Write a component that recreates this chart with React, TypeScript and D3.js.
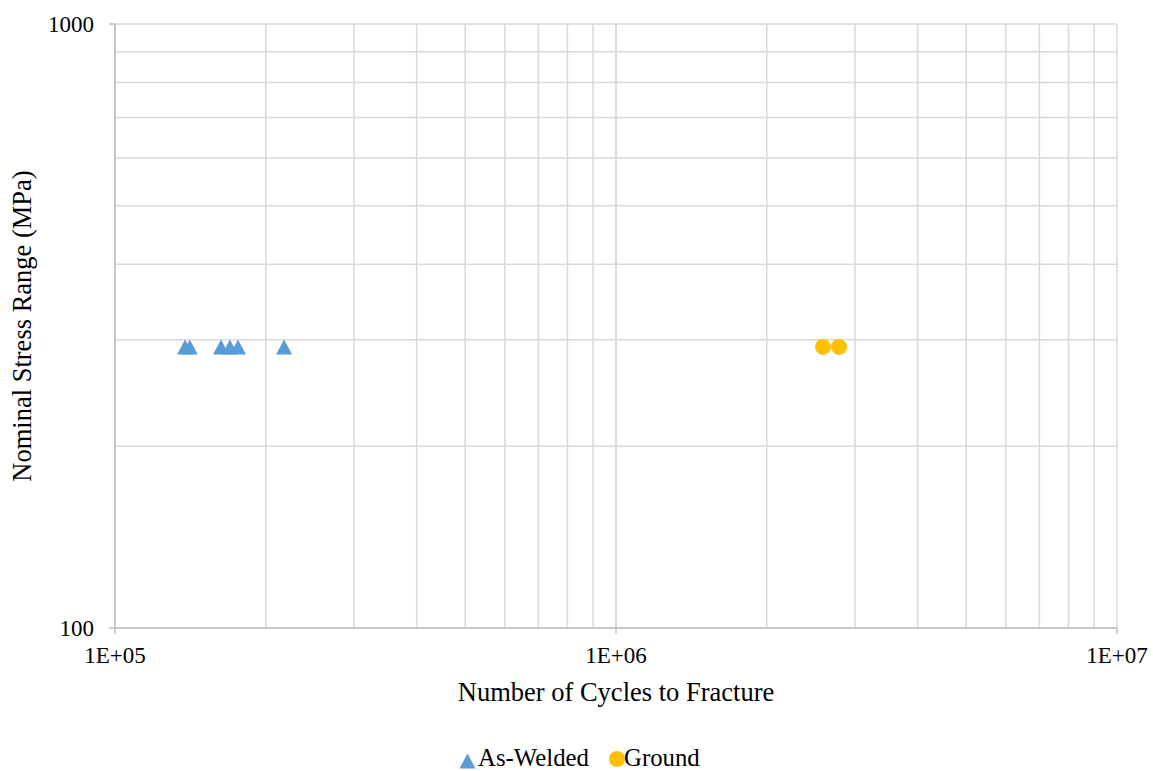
import React from "react";
import * as d3 from "d3";

const asWeldedCycles = [138000, 141000, 162800, 169600, 176000, 217500];
const asWeldedStress = [292, 292, 292, 292, 292, 292];
const groundCycles = [2589000, 2787000];
const groundStress = [292, 292];
const xTicks = [1e5, 1e6, 1e7];
const yTicks = [100, 1000];

const W = 1153;
const H = 771;
const margin = { left: 115, right: 36, top: 24, bottom: 143 };
const font = "Liberation Serif, Times New Roman, Tinos, DejaVu Serif, serif";

// triangle centred on its bounding box
const triPath = (w: number, h: number) => {
  const p = d3.path();
  p.moveTo(0, -h / 2);
  p.lineTo(w / 2, h / 2);
  p.lineTo(-w / 2, h / 2);
  p.closePath();
  return p.toString();
};

export default function App() {
  const x = d3.scaleLog().domain([1e5, 1e7]).range([margin.left, W - margin.right]);
  const y = d3.scaleLog().domain([100, 1000]).range([H - margin.bottom, margin.top]);

  const xGrid: number[] = [];
  for (let d = 1e5; d < 1e7; d *= 10) for (let k = 1; k <= 10; k++) xGrid.push(d * k);
  const yGrid: number[] = [];
  for (let k = 1; k <= 10; k++) yGrid.push(100 * k);

  const tri = triPath(16, 15);
  const circ = d3.symbol().type(d3.symbolCircle).size(200)() as string;

  const [x0, x1] = x.range();
  const [y0, y1] = y.range();
  const tick = { fontFamily: font, fontSize: 23, fill: "#000" };
  const title = { fontFamily: font, fontSize: 26.5, fill: "#000" };
  const leg = { fontFamily: font, fontSize: 24.8, fill: "#000" };

  return (
    <svg width={W} height={H} style={{ position: "absolute", left: 0, top: 0, background: "#fff" }}>
      <g>
        {xGrid.map((v, i) => (
          <line key={"xg" + i} x1={x(v)} x2={x(v)} y1={y1} y2={y0} stroke="#d9d9d9" strokeWidth={1.5} />
        ))}
        {yGrid.map((v, i) => (
          <line key={"yg" + i} x1={x0} x2={x1} y1={y(v)} y2={y(v)} stroke="#d9d9d9" strokeWidth={1.5} />
        ))}
        <line x1={x0} x2={x0} y1={y1} y2={y0} stroke="#bfbfbf" strokeWidth={1.5} />
        <line x1={x0} x2={x1} y1={y0} y2={y0} stroke="#bfbfbf" strokeWidth={1.5} />
        {xTicks.map((v) => (
          <g key={"xt" + v}>
            <line x1={x(v)} x2={x(v)} y1={y0} y2={y0 + 6} stroke="#bfbfbf" strokeWidth={1.5} />
            <text x={x(v)} y={y0 + 35} textAnchor="middle" style={tick}>
              {"1E+" + String(Math.round(Math.log10(v))).padStart(2, "0")}
            </text>
          </g>
        ))}
        {yTicks.map((v) => (
          <g key={"yt" + v}>
            <line x1={x0 - 6} x2={x0} y1={y(v)} y2={y(v)} stroke="#bfbfbf" strokeWidth={1.5} />
            <text x={x0 - 21} y={y(v) + 7.5} textAnchor="end" style={tick}>
              {v}
            </text>
          </g>
        ))}
        {asWeldedCycles.map((c, i) => (
          <path key={"aw" + i} d={tri} transform={`translate(${x(c)},${y(asWeldedStress[i])})`} fill="#5b9bd5" />
        ))}
        {groundCycles.map((c, i) => (
          <path key={"gr" + i} d={circ} transform={`translate(${x(c)},${y(groundStress[i])})`} fill="#ffc000" />
        ))}
        <text x={(x0 + x1) / 2} y={701} textAnchor="middle" style={title}>
          Number of Cycles to Fracture
        </text>
        <text transform={`translate(31,${(y0 + y1) / 2}) rotate(-90)`} textAnchor="middle" style={title}>
          Nominal Stress Range (MPa)
        </text>
        <g>
          <path d={tri} transform="translate(467.5,761)" fill="#5b9bd5" />
          <text x={478} y={766} style={leg}>As-Welded</text>
          <path d={circ} transform="translate(617,759)" fill="#ffc000" />
          <text x={624} y={766} style={leg}>Ground</text>
        </g>
      </g>
    </svg>
  );
}
